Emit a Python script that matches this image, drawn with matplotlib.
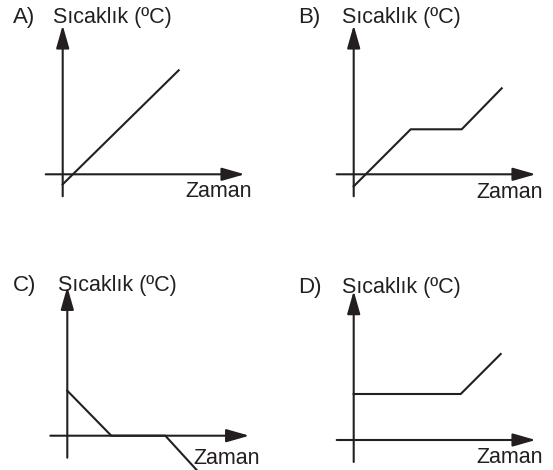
import matplotlib.pyplot as plt

plt.rcParams['font.family'] = ['Liberation Sans', 'DejaVu Sans']

W, H = 553, 470
ink = '#231f20'

# panel letters and axis captions
letters = ['A)', 'B)', 'C)', 'D)']
ylabel = 'Sıcaklık (ºC)'
xlabel = 'Zaman'

# time / temperature curves of each option (1 unit = 10 px)
t_a = [0, 11.6]
T_a = [-1.0, 10.4]
t_b = [0, 5.7, 10.8, 14.8]
T_b = [-1.2, 4.5, 4.5, 8.6]
t_c = [0, 4.4, 9.8, 13.0]
T_c = [4.5, 0, 0, -3.5]
t_d = [0, 10.7, 14.7]
T_d = [4.6, 4.6, 8.6]
curves = [(t_a, T_a), (t_b, T_b), (t_c, T_c), (t_d, T_d)]

# where each panel's origin sits (pixels from the top left)
origins = [(62.7, 174.3), (353.7, 174.3), (67.3, 435.7), (353.7, 440.0)]
# letter x, caption x, caption baseline, "Zaman" x, "Zaman" baseline
text_pos = [(12.7, 53.3, 22.7, 185, 196.7),
            (297.7, 341.7, 22.7, 476, 198.3),
            (13, 58, 290.7, 193, 464),
            (297.7, 341.7, 293.3, 476, 462.7)]

fig = plt.figure(figsize=(W / 100, H / 100), dpi=100)

arrow = dict(arrowstyle='-|>,head_length=0.7,head_width=0.2', mutation_scale=20,
             lw=1.5, color=ink, shrinkA=0, shrinkB=0)

for i in range(4):
    ox, oy = origins[i]
    ax = fig.add_axes([(ox - 30) / W, 1 - (oy + 40) / H, 250 / W, 200 / H])
    ax.set_xlim(-3, 22)
    ax.set_ylim(-4, 16)
    ax.axis('off')
    ax.annotate('', xy=(18.2, 0), xytext=(-1.7, 0), arrowprops=arrow)
    ax.annotate('', xy=(0, 14.9), xytext=(0, -2.2), arrowprops=arrow)
    t, T = curves[i]
    ax.plot(t, T, color=ink, lw=1.5, solid_joinstyle='miter', clip_on=False)

    lx, cx, cy, zx, zy = text_pos[i]
    fig.text(lx / W, 1 - cy / H, letters[i], fontsize=16, color=ink, va='baseline')
    fig.text(cx / W, 1 - cy / H, ylabel, fontsize=15.5, color=ink, va='baseline')
    fig.text(zx / W, 1 - zy / H, xlabel, fontsize=15.5, color=ink, va='baseline')

fig.savefig('out.png', dpi=100, facecolor='white')
